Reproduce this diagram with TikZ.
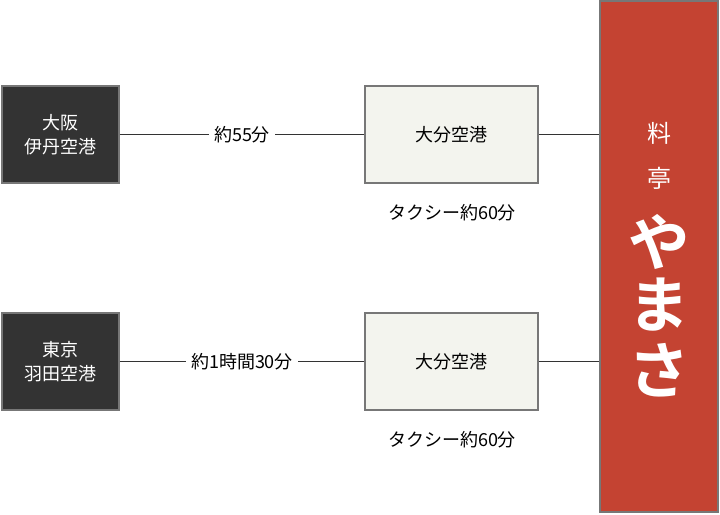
\documentclass[tikz,border=0pt]{standalone}
\usepackage{fontspec}
\setmainfont{Noto Sans CJK JP}
\newfontfamily\jpb{Noto Sans CJK JP}[BoldFont={* Bold}]
\definecolor{dark}{HTML}{333333}
\definecolor{pale}{HTML}{F3F4EE}
\definecolor{brick}{HTML}{C44332}
\definecolor{bord}{HTML}{777777}
\begin{document}
\begin{tikzpicture}[x=0.75pt,y=-0.75pt,
  darkbox/.style={draw=bord,fill=dark,text=white,minimum width=87.75pt,minimum height=72.75pt,align=center,font=\fontsize{13.5}{18}\selectfont,line width=1pt},
  palebox/.style={draw=bord,fill=pale,minimum width=129.75pt,minimum height=72.75pt,font=\fontsize{13.5}{18}\selectfont,line width=1pt},
  lbl/.style={fill=white,inner sep=4pt,font=\fontsize{13.5}{18}\selectfont},
  conn/.style={draw=dark,line width=0.8pt}]
\useasboundingbox (0,0) rectangle (720,514);
\node[darkbox] (osaka) at (60.5,134.5) {大阪\\伊丹空港};
\node[darkbox] (tokyo) at (60.5,361.5) {東京\\羽田空港};
\node[palebox] (oita1) at (451.5,134.5) {大分空港};
\node[palebox] (oita2) at (451.5,361.5) {大分空港};
\node[draw=bord,fill=brick,line width=1pt,minimum width=88.5pt,minimum height=383pt] (yamasa) at (659,256.5) {};
\draw[conn] (osaka) -- node[lbl]{約55分} (oita1);
\draw[conn] (tokyo) -- node[lbl]{約1時間30分} (oita2);
\draw[conn] (oita1.east) -- (oita1.east -| yamasa.west);
\draw[conn] (oita2.east) -- (oita2.east -| yamasa.west);
\node[font=\fontsize{13.5}{18}\selectfont] (t1) at (452,213) {タクシー約60分};
\node[font=\fontsize{13.5}{18}\selectfont] (t2) at (452,440) {タクシー約60分};
\node[text=white,font=\fontsize{18}{20}\selectfont] (ryo) at (659,133) {料};
\node[text=white,font=\fontsize{18}{20}\selectfont] (tei) at (659,178) {亭};
\node[text=white,font=\jpb\bfseries\fontsize{46}{50}\selectfont] (ya) at (659,242) {や};
\node[text=white,font=\jpb\bfseries\fontsize{46}{50}\selectfont] (ma) at (659,305) {ま};
\node[text=white,font=\jpb\bfseries\fontsize{46}{50}\selectfont] (sa) at (659,370) {さ};
\end{tikzpicture}
\end{document}
